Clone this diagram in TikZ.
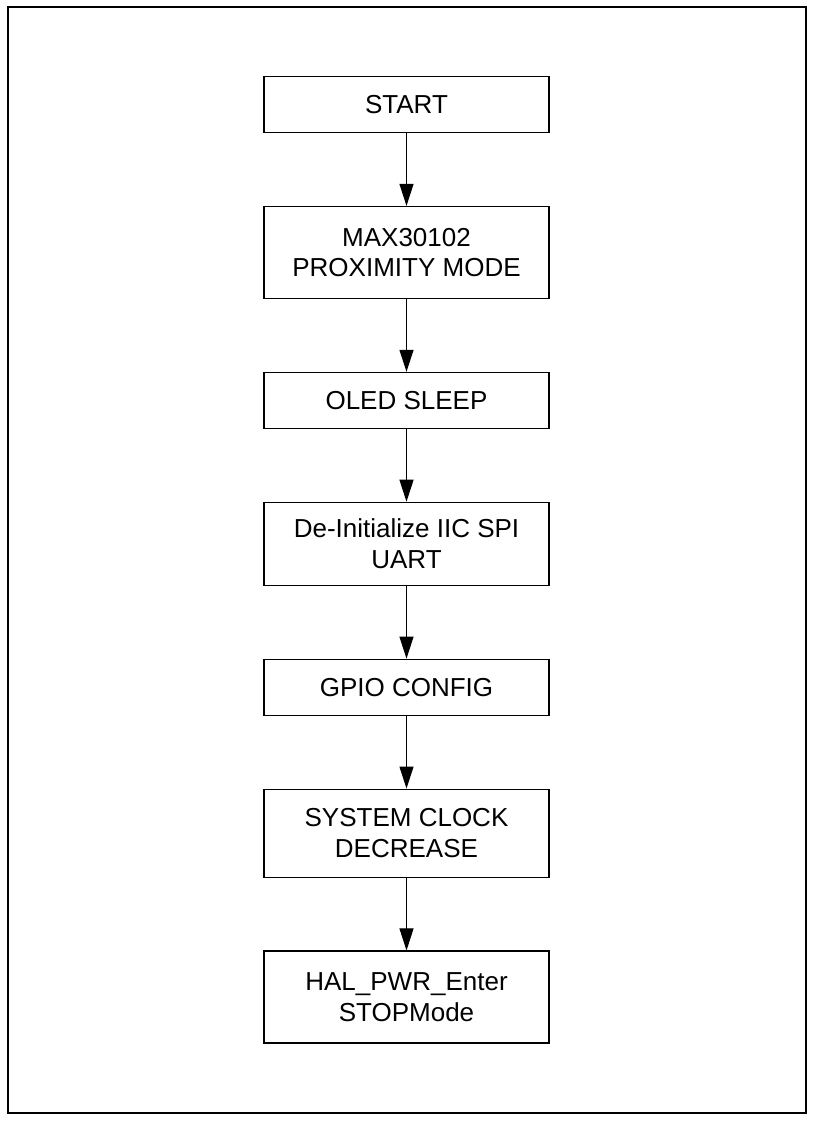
\documentclass[tikz,border=0pt]{standalone}
\usepackage{fontspec}
\setmainfont{Liberation Sans}
\usetikzlibrary{positioning, arrows.meta}
\begin{document}
\begin{tikzpicture}[node distance = 1.45cm, thick,
    stage/.style={draw, line width=0.8pt, minimum width=5.7cm, align=center, font=\fontsize{14.8}{17.5}\selectfont},
    flow/.style={->, line width=0.6pt, >={Triangle[length=0.44cm, width=0.28cm]}}]
    \useasboundingbox (0,0) rectangle (16.28,-22.48);
    \draw[line width=1.1pt] (0.16,-0.14) rectangle (16.12,-22.26);

    \node[stage, minimum height=1.12cm] at (8.13,-2.094) (start) {START};
    \node[stage, minimum height=1.84cm, below=of start] (prox) {MAX30102\\PROXIMITY MODE};
    \node[stage, minimum height=1.12cm, below=of prox] (oled) {OLED SLEEP};
    \node[stage, minimum height=1.66cm, below=of oled] (deinit) {De-Initialize IIC SPI\\UART};
    \node[stage, minimum height=1.12cm, below=of deinit] (gpio) {GPIO CONFIG};
    \node[stage, minimum height=1.76cm, below=of gpio] (clock) {SYSTEM CLOCK\\DECREASE};
    \node[stage, minimum height=1.84cm, below=of clock] (stop) {HAL\_PWR\_Enter\\STOPMode};

    \draw[flow] (start) -- (prox);
    \draw[flow] (prox) -- (oled);
    \draw[flow] (oled) -- (deinit);
    \draw[flow] (deinit) -- (gpio);
    \draw[flow] (gpio) -- (clock);
    \draw[flow] (clock) -- (stop);
\end{tikzpicture}
\end{document}
